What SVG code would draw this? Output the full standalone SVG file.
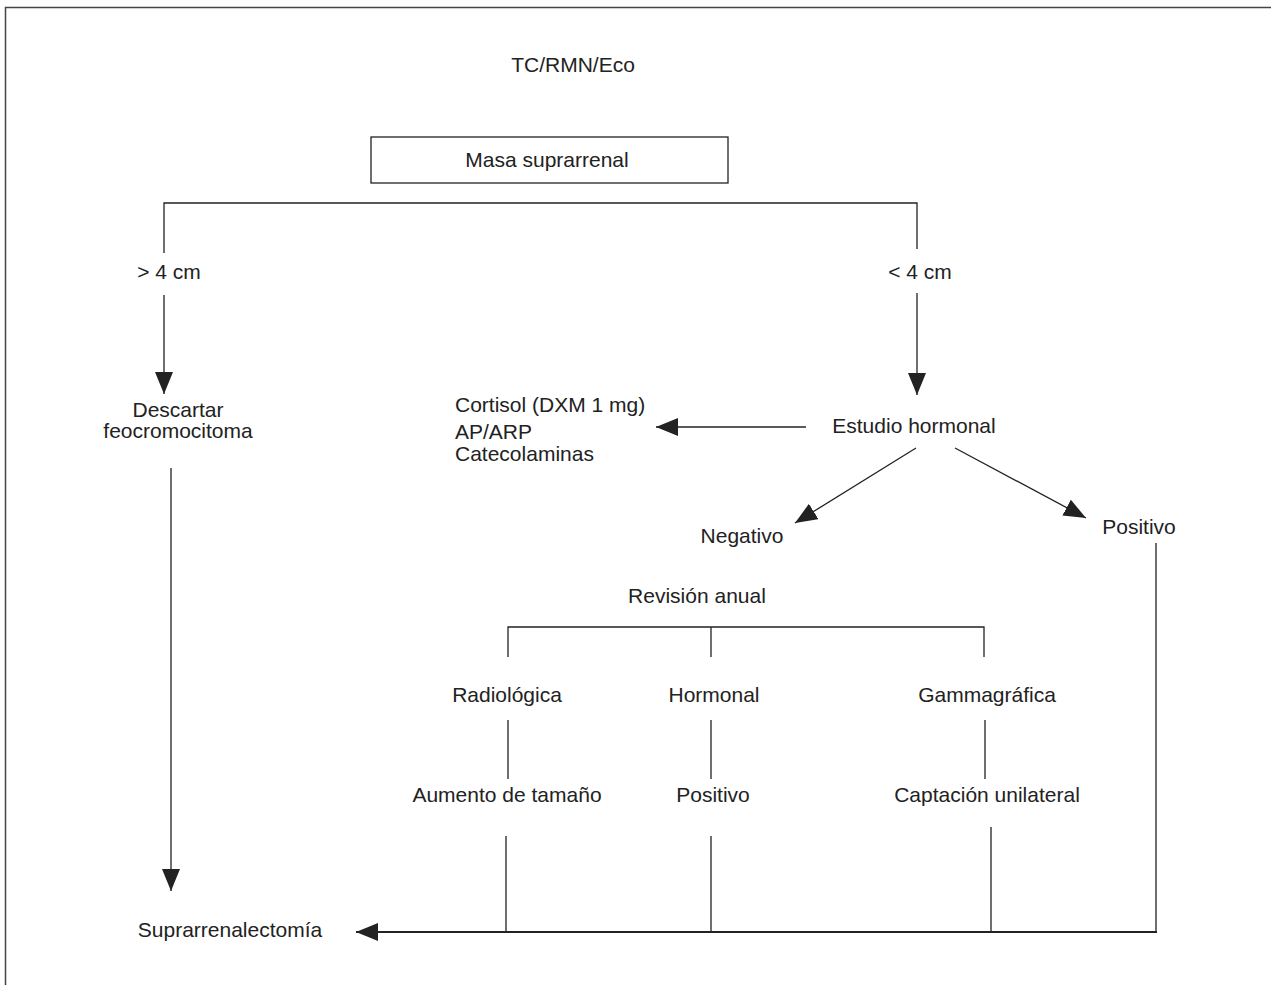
<svg xmlns="http://www.w3.org/2000/svg" width="1271" height="985" viewBox="0 0 1271 985">
<style>
.t{font-family:"Liberation Sans",Arial,sans-serif;font-size:21px;fill:#222}
.m{text-anchor:middle}
.c{fill:none;stroke:#222;stroke-width:1.3}
.b{fill:none;stroke:#222;stroke-width:2.2}
.box{fill:#fff;stroke:#222;stroke-width:1.3}
.frame{fill:none;stroke:#444;stroke-width:1.5}
</style>
<defs>
<marker id="ah" markerUnits="userSpaceOnUse" markerWidth="22" markerHeight="18" viewBox="0 0 22 18" refX="22" refY="9" orient="auto">
<path d="M0,0 L22,9 L0,18 z" fill="#222"/>
</marker>
</defs>
<rect width="1271" height="985" fill="#fff"/>
<path class="frame" d="M5.5,985 V7.5 H1271"/>
<g id="connectors">
<path class="c" d="M164,253 V203 H917 V249"/>
<path class="c" d="M164,295 V394" marker-end="url(#ah)"/>
<path class="c" d="M917,293 V395" marker-end="url(#ah)"/>
<path class="c" d="M806,427 H656" marker-end="url(#ah)"/>
<path class="c" d="M916,448 L795,523" marker-end="url(#ah)"/>
<path class="c" d="M955,448 L1086,518" marker-end="url(#ah)"/>
<path class="c" d="M171,468 V891" marker-end="url(#ah)"/>
<path class="c" d="M508,657 V627 H984 V657 M711,627 V657"/>
<path class="c" d="M508,720 V779 M711,720 V779 M985,720 V779"/>
<path class="c" d="M506,836 V932 M711,836 V932 M991,827 V932 M1156,543 V932"/>
<path class="b" d="M1157,932 H356" marker-end="url(#ah)"/>
</g>
<g id="tc"><text class="t m" x="573" y="72">TC/RMN/Eco</text></g>
<g id="masa"><rect class="box" x="371" y="137" width="357" height="46"/><text class="t m" x="547" y="167">Masa suprarrenal</text></g>
<g id="mayor4"><text class="t m" x="169" y="279">&gt; 4 cm</text></g>
<g id="menor4"><text class="t m" x="920" y="279">&lt; 4 cm</text></g>
<g id="descartar"><text class="t m" x="178" y="417">Descartar</text><text class="t m" x="178" y="438">feocromocitoma</text></g>
<g id="pruebas"><text class="t" x="455" y="412">Cortisol (DXM 1 mg)</text><text class="t" x="455" y="439">AP/ARP</text><text class="t" x="455" y="461">Catecolaminas</text></g>
<g id="estudio"><text class="t m" x="914" y="433">Estudio hormonal</text></g>
<g id="negativo"><text class="t m" x="742" y="543">Negativo</text></g>
<g id="positivo"><text class="t m" x="1139" y="534">Positivo</text></g>
<g id="revision"><text class="t m" x="697" y="603">Revisión anual</text></g>
<g id="radiologica"><text class="t m" x="507" y="702">Radiológica</text></g>
<g id="hormonal"><text class="t m" x="714" y="702">Hormonal</text></g>
<g id="gammagrafica"><text class="t m" x="987" y="702">Gammagráfica</text></g>
<g id="aumento"><text class="t m" x="507" y="802">Aumento de tamaño</text></g>
<g id="positivo2"><text class="t m" x="713" y="802">Positivo</text></g>
<g id="captacion"><text class="t m" x="987" y="802">Captación unilateral</text></g>
<g id="suprarrenalectomia"><text class="t m" x="230" y="937">Suprarrenalectomía</text></g>
</svg>
